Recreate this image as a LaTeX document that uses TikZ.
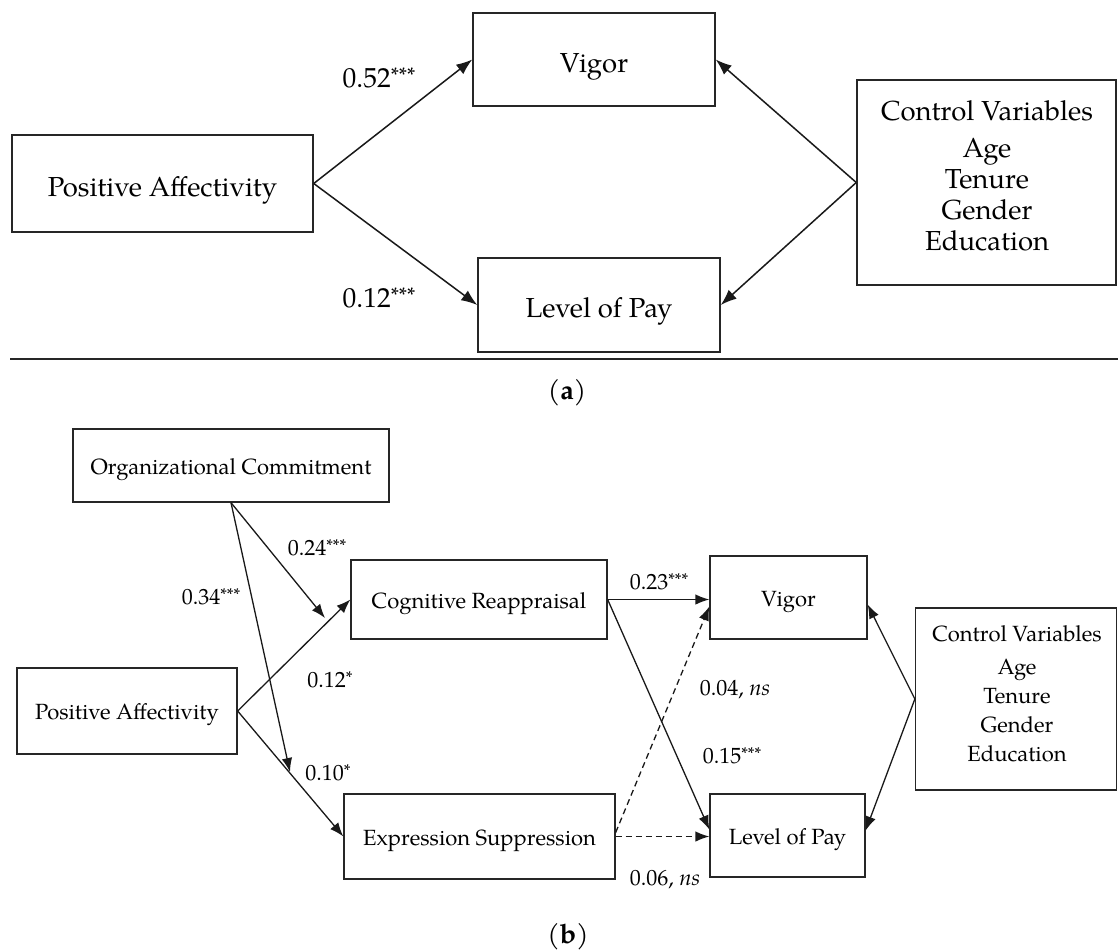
\documentclass[tikz,border=0pt]{standalone}
\usepackage{fontspec}
\setmainfont{TeX Gyre Pagella}
\usetikzlibrary{arrows.meta,calc}
\newcommand\stA[1]{\raisebox{5pt}{\fontsize{21}{21}\selectfont #1}}
\newcommand\stB[1]{\raisebox{4pt}{\fontsize{17}{17}\selectfont #1}}
\begin{document}
\begin{tikzpicture}[x=1pt,y=-1pt,
  boxa/.style={draw=black!85, line width=1.5pt, inner sep=0pt, align=center, font=\fontsize{27.5}{31}\selectfont, text height=25pt, text depth=0pt},
  boxb/.style={draw=black!85, line width=1.3pt, inner sep=0pt, align=center, font=\fontsize{22}{29}\selectfont, text height=17pt, text depth=0pt},
  arra/.style={line width=1.5pt, draw=black!90, -{Latex[length=16pt,width=12pt]}},
  arrb/.style={line width=1.3pt, draw=black!90, -{Latex[length=14pt,width=10.5pt]}},
  dsh/.style={arrb, dash pattern=on 6pt off 4pt},
  laba/.style={font=\fontsize{27.5}{31}\selectfont, inner sep=0pt},
  labb/.style={font=\fontsize{22}{26}\selectfont, inner sep=0pt},
  cvtxta/.style={font=\fontsize{27.5}{31}\selectfont, inner sep=0pt, align=center},
  cvtxtb/.style={font=\fontsize{22}{29}\selectfont, inner sep=0pt, align=center},
  capt/.style={font=\fontsize{27}{30}\selectfont, inner sep=0pt}
]
\useasboundingbox (0,0) rectangle (1118,951);
\fill[white] (0,0) rectangle (1118,951);

% ---------------- (a) ----------------
\node[boxa, minimum width=242, minimum height=93] (vga) at (594,59.5) {Vigor};
\node[boxa, minimum width=301, minimum height=97] (paa) at (162.5,183.5) {Positive Affectivity};
\node[boxa, minimum width=242, minimum height=94] (lpa) at (599,305) {Level of Pay};
\node[boxa, minimum width=259, minimum height=205] (cva) at (986.5,182.5) {};
\node[cvtxta] (cvta) at (987,176) {Control Variables\\[6pt]Age\\Tenure\\Gender\\Education};

\draw[arra] (paa.east) -- (vga.west);
\draw[arra] (paa.east) -- (lpa.west);
\draw[arra] (cva.west) -- (vga.east);
\draw[arra] (cva.west) -- (lpa.east);

\node[laba] (l52) at (379,78) {0.52\stA{***}};
\node[laba] (l12a) at (379,298) {0.12\stA{***}};

\coordinate (sepl) at (10,359);
\coordinate (sepr) at (1118,359);
\draw[line width=1.3pt, black!85] (sepl) -- (sepr);
\node[capt] (capa) at (567,393) {(\textbf{a})};

% ---------------- (b) ----------------
\node[boxb, minimum width=316, minimum height=73] (oc) at (231,465.5) {Organizational Commitment};
\node[boxb, minimum width=256, minimum height=79] (cr) at (479,599.5) {Cognitive Reappraisal};
\node[boxb, minimum width=220, minimum height=86] (pab) at (127,711) {Positive Affectivity};
\node[boxb, minimum width=271, minimum height=85] (es) at (479.5,836.5) {Expression Suppression};
\node[boxb, minimum width=157, minimum height=83] (vgb) at (788.5,597.5) {Vigor};
\node[boxb, minimum width=155, minimum height=83] (lpb) at (787.5,835.5) {Level of Pay};
\node[boxb, minimum width=201, minimum height=182] (cvb) at (1016,699) {};
\node[cvtxtb] (cvtb) at (1017,694) {Control Variables\\[4pt]Age\\Tenure\\Gender\\Education};

\coordinate (m1) at (325,618);
\coordinate (m2) at (290,772);

\draw[arrb] (oc.south) -- (m1);
\draw[arrb] (oc.south) -- (m2);
\draw[arrb] (pab.east) -- (cr.west);
\draw[arrb] (pab.east) -- (es.west);
\draw[arrb] (cr.east) -- (cr.east -| vgb.west);
\draw[arrb] (cr.east) -- ([yshift=6pt]lpb.west);
\draw[dsh] ([yshift=4pt]es.east) -- ([yshift=-9pt]vgb.west);
\draw[dsh] (es.east) -- (es.east -| lpb.west);
\draw[arrb] (cvb.west) -- ([yshift=-7pt]vgb.east);
\draw[arrb] (cvb.west) -- ([yshift=5pt]lpb.east);

\node[labb] (l24) at (317,548) {0.24\stB{***}};
\node[labb] (l34) at (211,597) {0.34\stB{***}};
\node[labb] (l12b) at (330,680) {0.12\stB{*}};
\node[labb] (l10) at (328,773) {0.10\stB{*}};
\node[labb] (l23) at (659,582) {0.23\stB{***}};
\node[labb] (l04) at (735,690) {0.04, \textit{ns}};
\node[labb] (l15) at (732,756) {0.15\stB{***}};
\node[labb] (l06) at (665,880) {0.06, \textit{ns}};
\node[capt] (capb) at (568,937) {(\textbf{b})};
\end{tikzpicture}
\end{document}
